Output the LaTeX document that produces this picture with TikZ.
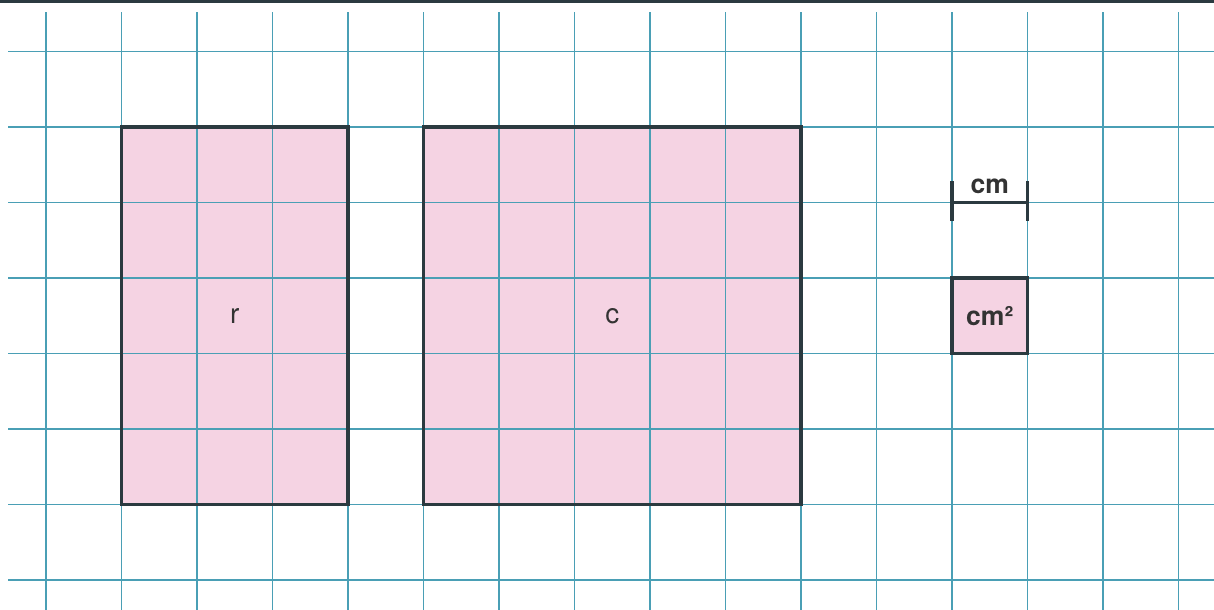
\documentclass[tikz,border=0pt]{standalone}
\usepackage{fontspec}
\setmainfont{TeX Gyre Heros}
\definecolor{gridblue}{HTML}{4A9FB5}
\definecolor{areapink}{HTML}{F5D3E3}
\definecolor{edgedark}{HTML}{2B3A40}
\definecolor{labelgray}{HTML}{333333}
\tikzset{
	gridline/.style={draw=gridblue, line width=0.6pt},
	areabox/.style={fill=areapink, draw=none},
	areaedge/.style={draw=edgedark, line width=1.2pt},
	arealabel/.style={text=labelgray, font=\fontsize{10.5}{12}\selectfont, inner sep=1pt},
	unitlabel/.style={arealabel, font=\fontsize{10}{12}\selectfont\bfseries}
}
\begin{document}
\begin{tikzpicture}[x=1cm,y=1cm]
		\useasboundingbox (-0.609,-0.397) rectangle (15.47,7.682);
		\fill [white] (-0.609,-0.397) rectangle (15.47,7.682);
		\fill [edgedark] (-0.609,7.64) rectangle (15.47,7.682);
		
		\fill [areabox] (1,1) rectangle (4,6);
		\fill [areabox] (5,1) rectangle (10,6);
		\fill [areabox] (12,3) rectangle (13,4);
		
		\foreach \i in {0,...,15}
			\draw [gridline] (\i,-0.397) -- (\i,7.52);
		\foreach \j in {0,...,7}
			\draw [gridline] (-0.5,\j) -- (15.47,\j);
		
		\draw [areaedge] (1,1) rectangle (4,6);
		\draw [areaedge] (5,1) rectangle (10,6);
		\draw [areaedge] (12,3) rectangle (13,4);
		
		\coordinate (cmleft) at (12,5);
		\coordinate (cmright) at (13,5);
		\draw [areaedge] (cmleft) -- (cmright);
		\draw [areaedge] ([yshift=-0.24cm]cmleft) -- ([yshift=0.28cm]cmleft);
		\draw [areaedge] ([yshift=-0.24cm]cmright) -- ([yshift=0.28cm]cmright);
		
		\node [arealabel] (rlabel) at (2.5,3.5) {r};
		\node [arealabel] (clabel) at (7.5,3.5) {c};
		\node [unitlabel, above] (cmlabel) at (12.5,5.08) {cm};
		\node [unitlabel] (cmsqlabel) at (12.5,3.5) {cm²};
	\end{tikzpicture}
\end{document}
